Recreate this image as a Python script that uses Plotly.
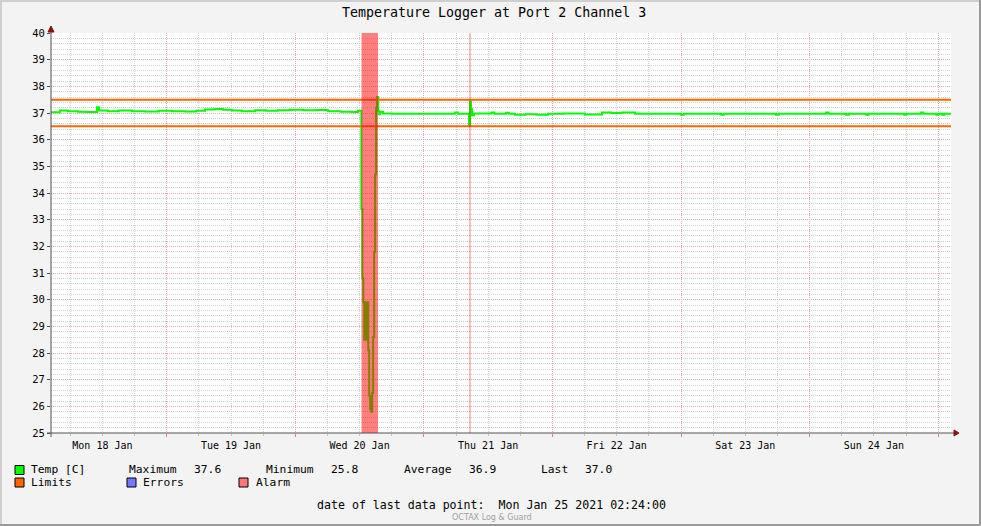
import plotly.graph_objects as go

# ---------------- data ----------------
temp_times = [
    "2021-01-18 02:24", "2021-01-18 04:05", "2021-01-18 05:30", "2021-01-18 07:26",
    "2021-01-18 09:00", "2021-01-18 10:59", "2021-01-18 11:22", "2021-01-18 13:00",
    "2021-01-18 15:00", "2021-01-18 17:31", "2021-01-18 20:00", "2021-01-18 22:30",
    "2021-01-19 01:00", "2021-01-19 03:30", "2021-01-19 05:30", "2021-01-19 07:09",
    "2021-01-19 09:00", "2021-01-19 10:30", "2021-01-19 12:11", "2021-01-19 14:00",
    "2021-01-19 16:30", "2021-01-19 18:30", "2021-01-19 20:46", "2021-01-19 23:00",
    "2021-01-20 01:30", "2021-01-20 04:00", "2021-01-20 06:06", "2021-01-20 08:30",
    "2021-01-20 10:30", "2021-01-20 11:42",
    "2021-01-20 12:20", "2021-01-20 12:31", "2021-01-20 12:42", "2021-01-20 12:53",
    "2021-01-20 13:04", "2021-01-20 13:15", "2021-01-20 13:26", "2021-01-20 13:37",
    "2021-01-20 13:48", "2021-01-20 13:59", "2021-01-20 14:10", "2021-01-20 14:21",
    "2021-01-20 14:32", "2021-01-20 14:43", "2021-01-20 14:54", "2021-01-20 15:05",
    "2021-01-20 15:16", "2021-01-20 15:29", "2021-01-20 15:40", "2021-01-20 15:51",
    "2021-01-20 16:22", "2021-01-20 18:00", "2021-01-20 21:00", "2021-01-21 00:00",
    "2021-01-21 03:00", "2021-01-21 05:49", "2021-01-21 06:22", "2021-01-21 08:26",
    "2021-01-21 08:37", "2021-01-21 08:48", "2021-01-21 08:59", "2021-01-21 09:22",
    "2021-01-21 12:40", "2021-01-21 13:10", "2021-01-21 15:20", "2021-01-21 15:50",
    "2021-01-21 17:01", "2021-01-21 19:00", "2021-01-21 21:00", "2021-01-21 23:10",
    "2021-01-22 02:00", "2021-01-22 06:05", "2021-01-22 09:15", "2021-01-22 11:00",
    "2021-01-22 13:00", "2021-01-22 15:25", "2021-01-22 19:00", "2021-01-23 00:00",
    "2021-01-23 00:30", "2021-01-23 07:30", "2021-01-23 08:00", "2021-01-23 17:45",
    "2021-01-23 18:15", "2021-01-24 03:05", "2021-01-24 03:30", "2021-01-24 06:50",
    "2021-01-24 07:20", "2021-01-24 10:35", "2021-01-24 11:00", "2021-01-24 17:40",
    "2021-01-24 18:05", "2021-01-24 20:50", "2021-01-24 21:15", "2021-01-24 23:40",
    "2021-01-25 00:05", "2021-01-25 00:45", "2021-01-25 01:10", "2021-01-25 02:24",
]
temp_values = [
    37.03, 37.09, 37.07, 37.05,
    37.04, 37.22, 37.09, 37.07,
    37.09, 37.07, 37.06, 37.08,
    37.07, 37.06, 37.08, 37.13,
    37.15, 37.12, 37.09, 37.07,
    37.10, 37.08, 37.10, 37.12,
    37.10, 37.11, 37.07, 37.05,
    37.04, 37.08,
    33.4, 30.8, 29.9, 28.5,
    29.9, 28.5, 29.9, 28.1,
    26.4, 25.9, 25.8, 26.5,
    28.6, 31.8, 34.7, 37.2,
    37.6, 37.07, 36.95, 37.05,
    36.98, 36.97, 36.97, 36.97,
    36.97, 37.02, 36.97, 36.55,
    37.42, 37.15, 36.92, 36.98,
    37.02, 36.97, 37.01, 36.97,
    36.93, 36.95, 36.93, 36.97,
    36.98, 36.94, 37.02, 37.00,
    37.02, 36.97, 36.97, 36.93,
    36.97, 36.93, 36.97, 36.93,
    36.97, 37.02, 36.97, 36.93,
    36.97, 36.93, 36.97, 36.93,
    36.97, 37.02, 36.97, 36.93,
    36.97, 36.93, 36.97, 36.97,
]

range_start = "2021-01-18 02:24"
range_end = "2021-01-25 02:24"
limit_high = 37.5
limit_low = 36.5

alarm_start = "2021-01-20 12:22"
alarm_end = "2021-01-20 15:27"
alarm_instant = "2021-01-21 08:37"

legend_labels = ["Temp [C]", "Limits", "Errors", "Alarm"]
stat_names = ["Maximum", "Minimum", "Average", "Last"]
stat_values = ["37.6", "25.8", "36.9", "37.0"]
title_text = "Temperature Logger at Port 2 Channel 3"
footer_text = "date of last data point:  Mon Jan 25 2021 02:24:00"
brand_text = "OCTAX Log & Guard"

# ---------------- styles / layout helpers ----------------
W_FIG, H_FIG = 981, 526
L, T, PW, PH = 51, 33, 900, 400
MONO = "DejaVu Sans Mono"
LEG_SIZE = 11.3


def px(x):
    return (x - L) / PW


def py(y):
    return (T + PH - y) / PH


fig = go.Figure()

fig.add_trace(go.Scatter(
    x=temp_times, y=temp_values, mode="lines",
    line=dict(color="#00FF00", width=2, shape="hv"),
    hoverinfo="skip", showlegend=False,
))
for lim in (limit_high, limit_low):
    fig.add_trace(go.Scatter(
        x=[range_start, range_end], y=[lim, lim], mode="lines",
        line=dict(color="#FF6600", width=2),
        hoverinfo="skip", showlegend=False,
    ))

shapes = []
# alarm overlays (semi-transparent red, on top)
shapes.append(dict(type="rect", xref="x", yref="paper", x0=alarm_start, x1=alarm_end,
                   y0=0, y1=1, fillcolor="rgba(255,0,0,0.5)", line=dict(width=0),
                   layer="above"))
shapes.append(dict(type="line", xref="x", yref="paper", x0=alarm_instant, x1=alarm_instant,
                   y0=0, y1=1, line=dict(color="rgba(255,0,0,0.5)", width=1),
                   layer="above"))

# axes lines and arrows
axis_col = "#505050"
arrow_col = "#8B1010"
shapes.append(dict(type="line", xref="paper", yref="paper", x0=px(47), x1=px(955),
                   y0=py(433), y1=py(433), line=dict(color=axis_col, width=1), layer="above"))
shapes.append(dict(type="line", xref="paper", yref="paper", x0=px(51), x1=px(51),
                   y0=py(437), y1=py(30), line=dict(color=axis_col, width=1), layer="above"))
shapes.append(dict(type="path", xref="paper", yref="paper",
                   path=f"M {px(954)} {py(430)} L {px(959)} {py(433)} L {px(954)} {py(436)} Z",
                   fillcolor=arrow_col, line=dict(color=arrow_col, width=1), layer="above"))
shapes.append(dict(type="path", xref="paper", yref="paper",
                   path=f"M {px(48)} {py(32)} L {px(51)} {py(26)} L {px(54)} {py(32)} Z",
                   fillcolor=arrow_col, line=dict(color=arrow_col, width=1), layer="above"))

# frame border (3D look)
shapes.append(dict(type="rect", xref="paper", yref="paper", x0=px(0), x1=px(2),
                   y0=py(526), y1=py(0), fillcolor="#CFCFCF", line=dict(width=0)))
shapes.append(dict(type="rect", xref="paper", yref="paper", x0=px(0), x1=px(981),
                   y0=py(2), y1=py(0), fillcolor="#CFCFCF", line=dict(width=0)))
shapes.append(dict(type="rect", xref="paper", yref="paper", x0=px(979), x1=px(981),
                   y0=py(526), y1=py(0), fillcolor="#9A9A9A", line=dict(width=0)))
shapes.append(dict(type="rect", xref="paper", yref="paper", x0=px(0), x1=px(981),
                   y0=py(526), y1=py(524), fillcolor="#9A9A9A", line=dict(width=0)))

# legend boxes
legend_colors = ["#00FF00", "#FF6600", "#7777FF", "#FF7777"]
legend_box_pos = [(15, 465.5), (15, 478), (127, 478), (239, 478)]
legend_text_pos = [(30, 469.5), (30, 482.5), (142, 482.5), (255, 482.5)]
for (bx, by), col in zip(legend_box_pos, legend_colors):
    shapes.append(dict(type="rect", xref="paper", yref="paper",
                       x0=px(bx), x1=px(bx + 9), y0=py(by + 9), y1=py(by),
                       fillcolor=col, line=dict(color="#000000", width=1)))

annotations = []
annotations.append(dict(text=title_text, xref="paper", yref="paper", x=px(494), y=py(13),
                        xanchor="center", yanchor="middle", showarrow=False,
                        font=dict(family=MONO, size=13.3, color="#000000")))
for (tx, ty), lab in zip(legend_text_pos, legend_labels):
    annotations.append(dict(text=lab, xref="paper", yref="paper", x=px(tx), y=py(ty),
                            xanchor="left", yanchor="middle", showarrow=False, borderpad=0,
                            font=dict(family=MONO, size=LEG_SIZE, color="#000000")))
stat_name_x = [128, 265, 403, 540]
stat_val_x = [193, 330, 468, 584]
for nx, vx, nm, val in zip(stat_name_x, stat_val_x, stat_names, stat_values):
    annotations.append(dict(text=nm, xref="paper", yref="paper", x=px(nx), y=py(469.5),
                            xanchor="left", yanchor="middle", showarrow=False, borderpad=0,
                            font=dict(family=MONO, size=LEG_SIZE, color="#000000")))
    annotations.append(dict(text=val, xref="paper", yref="paper", x=px(vx), y=py(469.5),
                            xanchor="left", yanchor="middle", showarrow=False, borderpad=0,
                            font=dict(family=MONO, size=LEG_SIZE, color="#000000")))
annotations.append(dict(text=footer_text, xref="paper", yref="paper", x=px(316), y=py(505),
                        xanchor="left", yanchor="middle", showarrow=False, borderpad=0,
                        font=dict(family=MONO, size=11.6, color="#000000")))
annotations.append(dict(text=brand_text, xref="paper", yref="paper", x=px(492), y=py(517.5),
                        xanchor="center", yanchor="middle", showarrow=False, borderpad=0,
                        font=dict(family="DejaVu Sans", size=8, color="#A0A0A0")))

major_grid = "#E6A8A8"
minor_grid = "#D0D0D0"
dot = "1px,1px"

fig.update_layout(
    width=W_FIG, height=H_FIG,
    margin=dict(l=L, r=W_FIG - L - PW, t=T, b=H_FIG - T - PH, pad=0),
    paper_bgcolor="#F3F3F3", plot_bgcolor="#FFFFFF",
    showlegend=False,
    shapes=shapes, annotations=annotations,
    xaxis=dict(
        type="date", range=[range_start, range_end],
        tick0="2021-01-18 00:00", dtick=86400000,
        tickformat="%a %d %b", ticklabelmode="period",
        tickfont=dict(family=MONO, size=10, color="#000000"),
        ticks="outside", ticklen=3, tickcolor="#E08080",
        showgrid=True, gridcolor=major_grid, griddash=dot, gridwidth=1,
        minor=dict(dtick=21600000, tick0="2021-01-18 00:00", showgrid=True,
                   gridcolor=minor_grid, griddash=dot, gridwidth=1,
                   ticks="outside", ticklen=2, tickcolor="#C0C0C0"),
        showline=False, zeroline=False, fixedrange=True,
    ),
    yaxis=dict(
        range=[25, 40], dtick=1, tick0=25,
        tickfont=dict(family=MONO, size=10.5, color="#000000"),
        ticks="outside", ticklen=3, tickcolor=axis_col,
        showgrid=True, gridcolor=major_grid, griddash=dot, gridwidth=1,
        minor=dict(dtick=0.2, showgrid=True, gridcolor=minor_grid, griddash=dot, gridwidth=1),
        showline=False, zeroline=False, fixedrange=True,
    ),
)

fig.write_html("out.html", config={"displayModeBar": False},
               post_script="document.body.style.margin='0';")
